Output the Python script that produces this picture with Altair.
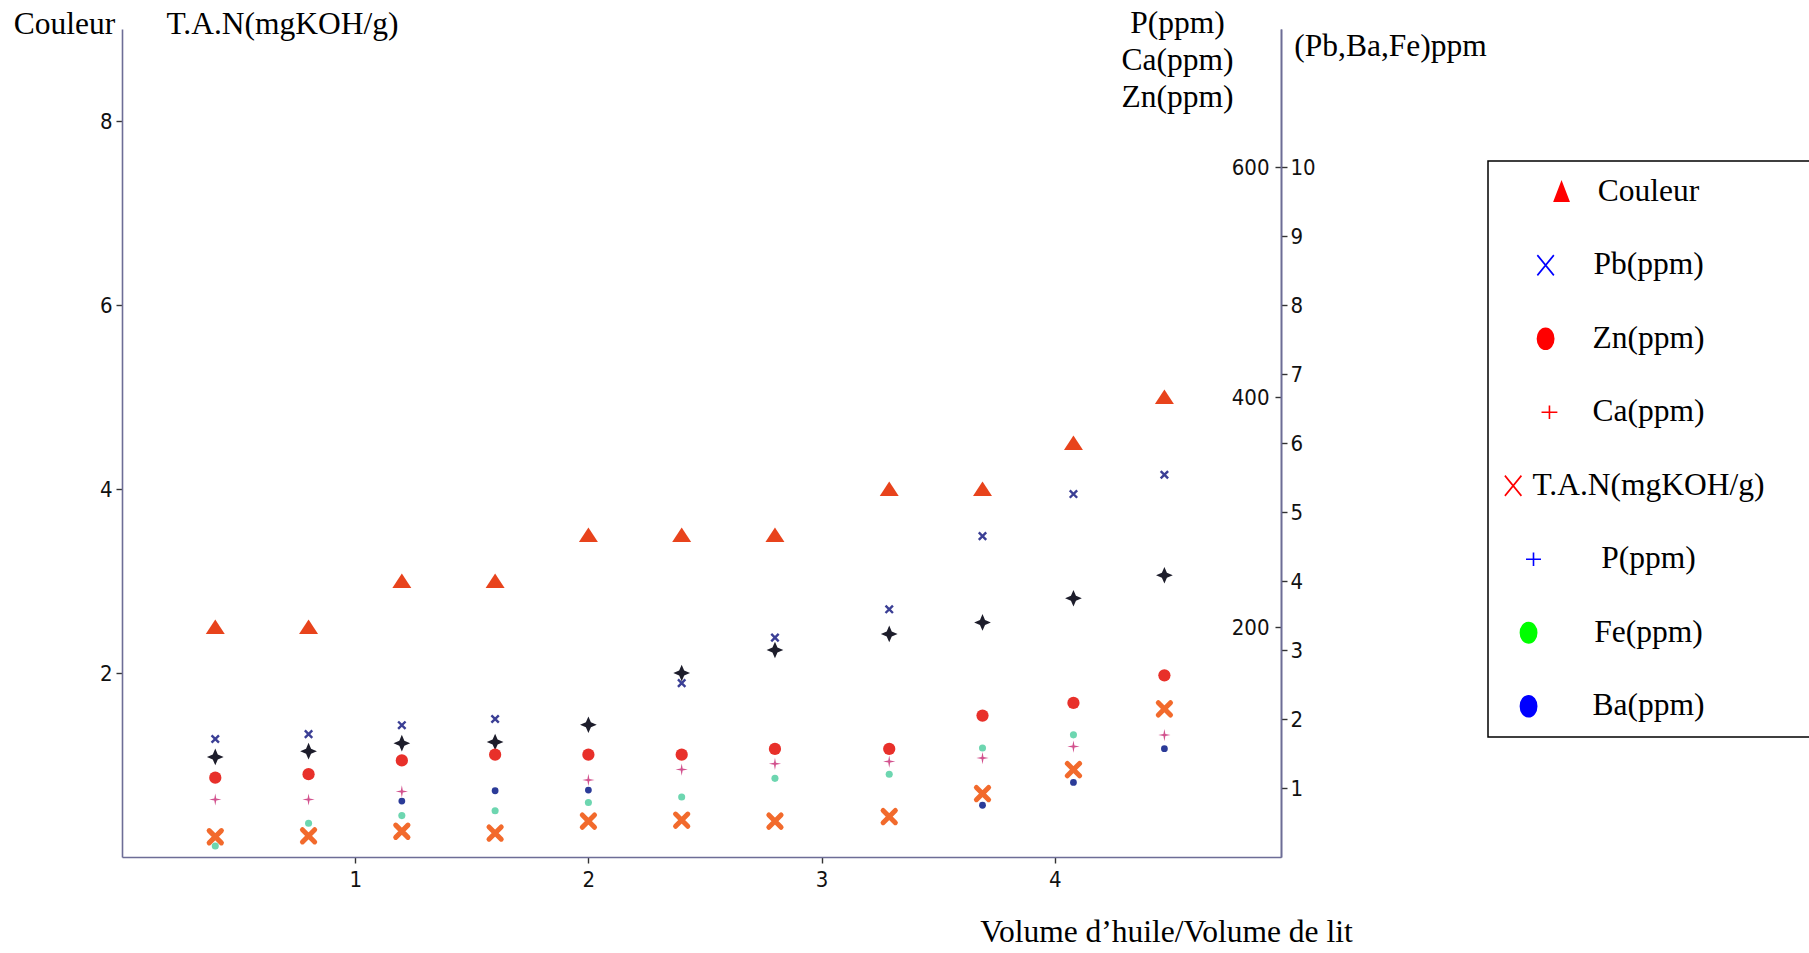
import altair as alt
import pandas as pd

# ---------------- data ----------------
x_vals = [0.40, 0.80, 1.20, 1.60, 2.00, 2.40, 2.80, 3.29, 3.69, 4.08, 4.47]
couleur = [2.5, 2.5, 3.0, 3.0, 3.5, 3.5, 3.5, 4.0, 4.0, 4.5, 5.0]
tan = [0.22, 0.23, 0.28, 0.26, 0.39, 0.40, 0.39, 0.44, 0.69, 0.95, 1.61]
p_ppm = [87, 92, 99, 100, 115, 160, 180, 194, 204, 225, 245]
zn_ppm = [69, 72, 84, 89, 89, 89, 94, 94, 123, 134, 158]
ca_ppm = [50, 50, 57, None, 67, 76, 81, 83, 86, 96, 106]
pb_ppm = [1.71, 1.78, 1.91, 2.00, None, 2.52, 3.18, 3.59, 4.65, 5.26, 5.54]
fe_ppm = [0.16, 0.49, 0.60, 0.67, 0.79, 0.87, 1.14, 1.20, 1.58, 1.77, None]
ba_ppm = [None, None, 0.81, 0.96, 0.97, None, None, None, 0.75, 1.08, 1.57]

x_ticks = [1, 2, 3, 4]
left_ticks = [2, 4, 6, 8]
right_outer_ticks = [200, 400, 600]
right_inner_ticks = [1, 2, 3, 4, 5, 6, 7, 8, 9, 10]

legend_names = ["Couleur", "Pb(ppm)", "Zn(ppm)", "Ca(ppm)", "T.A.N(mgKOH/g)",
                "P(ppm)", "Fe(ppm)", "Ba(ppm)"]
legend_colors = ["#ff0000", "#0000ff", "#ff0000", "#ff0000", "#ff0000",
                 "#0000ff", "#00ff00", "#0000ff"]

# ---------------- layout / style ----------------
W, H = 1159, 828
PAD_L, PAD_T = 122, 29
SERIF = "Liberation Serif, Times New Roman, serif"
COND = "DejaVu Sans Condensed, Liberation Sans Narrow, Roboto Condensed, DejaVu Sans"
AXC = "#6d6d96"
TITLE_FS = 31.5


def ellipse(rx, ry, cx=0.0):
    k = 0.5523
    def p(x, y):
        return f"{x + cx:.3f},{y:.3f}"
    return (f"M{p(0, -ry)}C{p(k*rx, -ry)} {p(rx, -k*ry)} {p(rx, 0)}"
            f"C{p(rx, k*ry)} {p(k*rx, ry)} {p(0, ry)}"
            f"C{p(-k*rx, ry)} {p(-rx, k*ry)} {p(-rx, 0)}"
            f"C{p(-rx, -k*ry)} {p(-k*rx, -ry)} {p(0, -ry)}Z")


def xshape(hx, hy, cx=0.0):
    return (f"M{cx - hx:.3f},{-hy}L{cx + hx:.3f},{hy}"
            f"M{cx - hx:.3f},{hy}L{cx + hx:.3f},{-hy}")


def plus(hx, hy, cx=0.0):
    return f"M{cx - hx:.3f},0L{cx + hx:.3f},0M{cx:.3f},{-hy}L{cx:.3f},{hy}"


def tri(hx, hy, cx=0.0):
    return f"M{cx:.3f},{-hy}L{cx + hx:.3f},{hy}L{cx - hx:.3f},{hy}Z"


X_PATH = "M-1,-1L1,1M-1,1L1,-1"
STAR4 = "M0,-1L0.3,-0.3L1,0L0.3,0.3L0,1L-0.3,0.3L-1,0L-0.3,-0.3Z"
STAR4_THIN = "M0,-1L0.16,-0.16L1,0L0.16,0.16L0,1L-0.16,0.16L-1,0L-0.16,-0.16Z"
TRI = "M0,-0.8L1,0.75L-1,0.75Z"

legend_shapes = [
    tri(0.66, 0.86, 1.8),
    xshape(0.75, 0.92, 0.35),
    ellipse(0.74, 0.95, 0.35),
    plus(0.72, 0.62, 0.7),
    xshape(0.75, 0.92, -2.6),
    plus(0.68, 0.62, -0.75),
    ellipse(0.74, 0.92, -1.2),
    ellipse(0.74, 0.95, -1.2),
]

axis_common = dict(grid=False, labelFont=COND, labelFontSize=22, labelColor="#111111",
                   tickColor="#333333", tickSize=6, tickWidth=1.4,
                   domainColor=AXC, domainWidth=1.6,
                   titleFont=SERIF, titleFontSize=TITLE_FS, titleFontWeight="normal",
                   titleColor="black", titleAngle=0, titleAlign="center",
                   titleBaseline="alphabetic")


def xenc():
    return alt.X("x:Q", scale=alt.Scale(domain=[0, 4.97], nice=False, zero=False),
                 axis=alt.Axis(values=x_ticks, format="d", labelPadding=6,
                               title="Volume d\u2019huile/Volume de lit",
                               titleX=1044, titleY=84, **axis_common))


def layer(vals, domain, axis, **mark):
    df = pd.DataFrame({"x": x_vals, "v": vals})
    return alt.Chart(df).mark_point(**mark).encode(
        x=xenc(),
        y=alt.Y("v:Q", scale=alt.Scale(domain=domain, nice=False, zero=True), axis=axis),
    )


ax_couleur = alt.Axis(orient="left", values=left_ticks, labelPadding=4,
                      title="Couleur", titleX=-58, titleY=4, **axis_common)
ax_tan = alt.Axis(orient="left", domain=False, ticks=False, labels=False,
                  title="T.A.N(mgKOH/g)", titleX=160, titleY=4,
                  **{k: v for k, v in axis_common.items() if k not in ("domainColor",)})
ax_outer = alt.Axis(orient="left", offset=-W, values=right_outer_ticks, labelPadding=6,
                    title=["P(ppm)", "Ca(ppm)", "Zn(ppm)"], titleX=-104, titleY=3,
                    titleLineHeight=37, **axis_common)
ax_inner = alt.Axis(orient="right", values=right_inner_ticks, labelPadding=3,
                    title="(Pb,Ba,Fe)ppm", titleX=109, titleY=26, **axis_common)

L_DOM, O_DOM, I_DOM = [0, 9], [0, 720], [0, 12]

layers = [
    layer(couleur, L_DOM, ax_couleur, shape=TRI, filled=True, color="#e8431c", size=360, opacity=1),
    layer(tan, L_DOM, ax_tan, shape=X_PATH, filled=False, color="#f26a2c", size=150,
          strokeWidth=5, strokeCap="round", opacity=1),
    layer(p_ppm, O_DOM, ax_outer, shape=STAR4, filled=True, color="#1d1d2b", size=280, opacity=1),
    layer(zn_ppm, O_DOM, None, shape="circle", filled=True, color="#e8302a", size=150, opacity=1),
    layer(ca_ppm, O_DOM, None, shape=STAR4_THIN, filled=True, color="#d2528e", size=150, opacity=1),
    layer(pb_ppm, I_DOM, ax_inner, shape=X_PATH, filled=False, color="#3b3f95", size=55,
          strokeWidth=2.4, opacity=1),
    layer(fe_ppm, I_DOM, None, shape="circle", filled=True, color="#6dd6b0", size=50, opacity=1),
    layer(ba_ppm, I_DOM, None, shape="circle", filled=True, color="#2b3b98", size=46, opacity=1),
]

# legend layer (its points lie outside the x domain and are clipped away)
leg_df = pd.DataFrame({"x": [-1.0] * len(legend_names), "v": [1.0] * len(legend_names),
                       "serie": legend_names})
leg = alt.Legend(title=" ", titleOrient="right", titleFontSize=1, titlePadding=61,
                 orient="none", legendX=1366, legendY=132, padding=15,
                 strokeColor="black", fillColor="white",
                 labelFont=SERIF, labelFontSize=TITLE_FS, labelColor="black",
                 labelAlign="center", labelOffset=91, labelLimit=500,
                 rowPadding=40.5, symbolOffset=23, symbolSize=484, symbolOpacity=1,
                 symbolStrokeWidth=1.6, direction="vertical")
leg_layer = alt.Chart(leg_df).mark_point(filled=True, clip=True, size=484, strokeWidth=1.6,
                                         opacity=1).encode(
    x=xenc(),
    y=alt.Y("v:Q", scale=alt.Scale(domain=L_DOM, nice=False), axis=None),
    fill=alt.Fill("serie:N", scale=alt.Scale(domain=legend_names, range=legend_colors), legend=leg),
    stroke=alt.Stroke("serie:N", scale=alt.Scale(domain=legend_names, range=legend_colors), legend=leg),
    shape=alt.Shape("serie:N", scale=alt.Scale(domain=legend_names, range=legend_shapes), legend=leg),
)

chart = alt.layer(*layers, leg_layer).resolve_scale(y="independent").properties(
    width=W, height=H,
    autosize=alt.AutoSizeParams(type="none"),
    padding={"left": PAD_L, "top": PAD_T, "right": 1809 - PAD_L - W, "bottom": 953 - PAD_T - H},
    background="white",
).configure_view(stroke=None).configure_legend(strokeWidth=1.5)

chart.save("out.html", embed_options={"renderer": "svg", "actions": False})
